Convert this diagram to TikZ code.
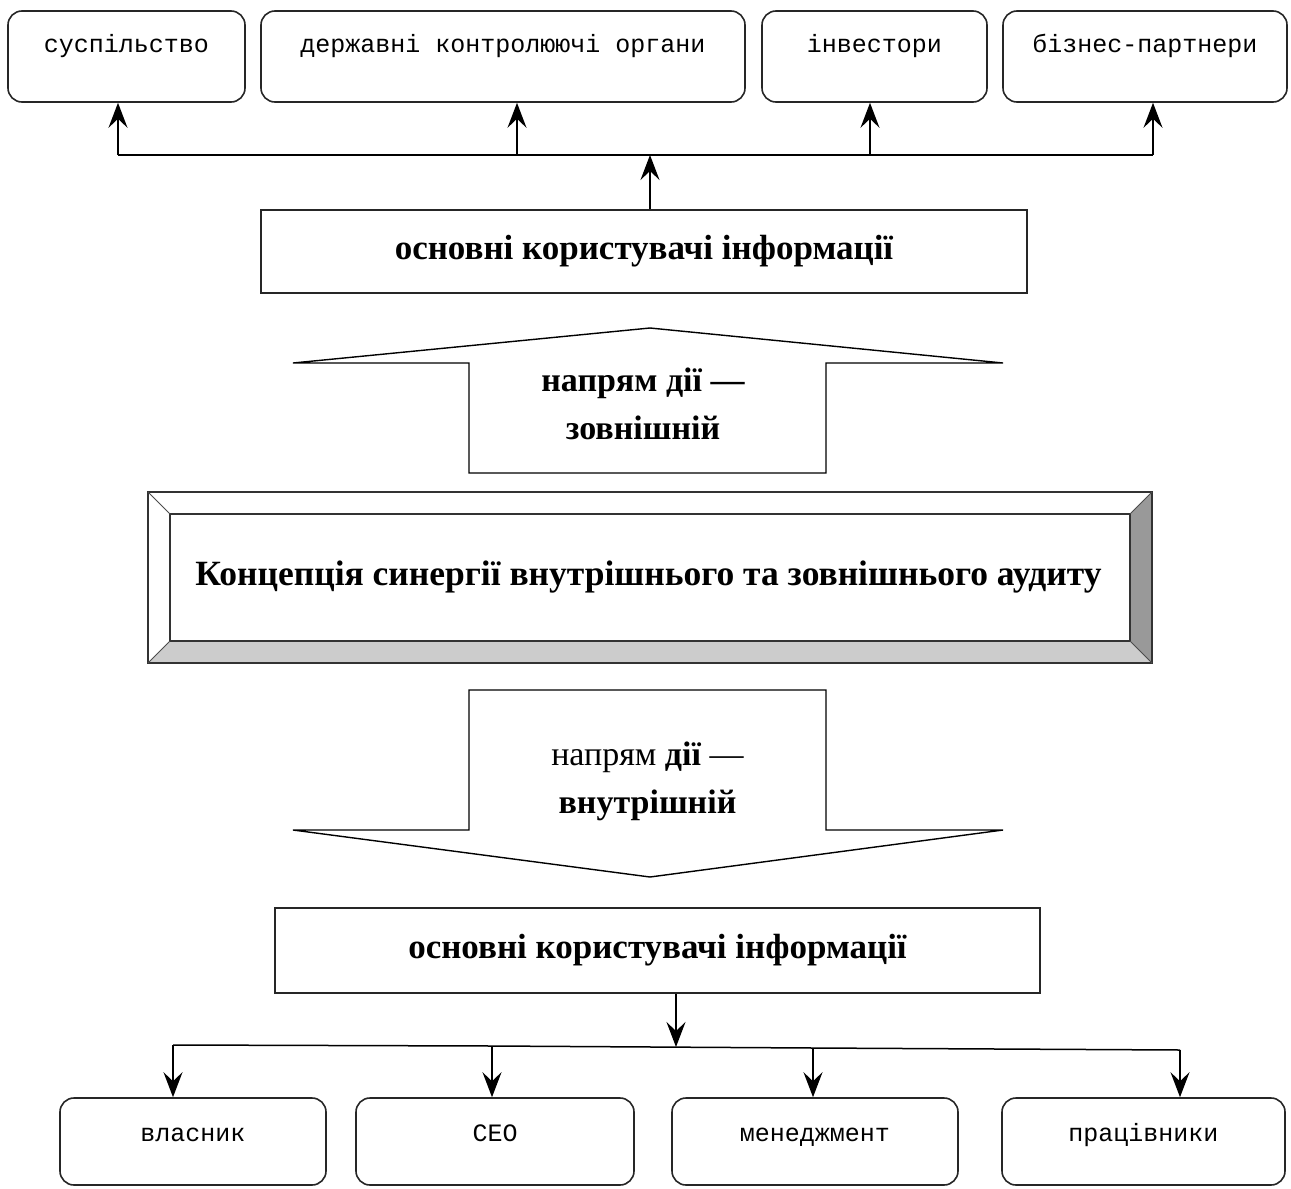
\documentclass[tikz,border=0pt]{standalone}
\usepackage{fontspec}
\setmainfont{Liberation Serif}
\newfontfamily\monof{Liberation Mono}
\usetikzlibrary{arrows.meta}
\begin{document}
\begin{tikzpicture}[x=1pt,y=-1pt,
  rbox/.style={draw=black!85, line width=1.6pt, rounded corners=14pt, inner sep=0pt, font=\monof\fontsize{25}{28}\selectfont, text height=10pt, text depth=19pt},
  rboxb/.style={draw=black!85, line width=1.6pt, rounded corners=14pt, inner sep=0pt, font=\monof\fontsize{25}{28}\selectfont, text height=10pt, text depth=11pt},
  ubox/.style={draw=black!85, line width=1.6pt, inner sep=0pt, font=\bfseries\fontsize{35}{40}\selectfont},
  arr/.style={line width=1.5pt, -{Stealth[length=25pt,width=19pt,inset=9pt]}},
  ln/.style={line width=1.5pt},
  bigarrow/.style={draw=black, line width=1.4pt, fill=white, line join=miter}
]
\useasboundingbox (0,0) rectangle (1291,1189);
% top boxes
\node[rbox, minimum width=237pt, minimum height=91pt] (s1) at (126.5,56.5) {суспільство};
\node[rbox, minimum width=484pt, minimum height=91pt] (s2) at (503,56.5) {державні контролюючі органи};
\node[rbox, minimum width=225pt, minimum height=91pt] (s3) at (874.5,56.5) {інвестори};
\node[rbox, minimum width=284pt, minimum height=91pt] (s4) at (1145,56.5) {бізнес-партнери};
% upper users box
\node[ubox, minimum width=766pt, minimum height=83pt] (u1) at (644,251.5) {основні користувачі інформації};
% connectors up
\coordinate (hub) at (650,155);
\coordinate (c1) at (118,155);
\coordinate (c2) at (517,155);
\coordinate (c3) at (870,155);
\coordinate (c4) at (1153,155);
\draw[arr] (u1.north -| hub) -- (hub);
\draw[ln] (c1) -- (c4);
\draw[arr] (c1) -- (c1 |- s1.south);
\draw[arr] (c2) -- (c2 |- s2.south);
\draw[arr] (c3) -- (c3 |- s3.south);
\draw[arr] (c4) -- (c4 |- s4.south);
% up block arrow
\draw[bigarrow] (469,473) -- (469,363) -- (293,363) -- (650,328) -- (1003,363) -- (826,363) -- (826,473) -- cycle;
\node[font=\bfseries\fontsize{34}{48}\selectfont, align=center] (t1) at (643,404) {напрям дії —\\зовнішній};
% bevel frame
\fill[white] (148,492) rectangle (1152,663);
\fill[black!40] (1152,492) -- (1130,514) -- (1130,641) -- (1152,663) -- cycle;
\fill[black!20] (148,663) -- (170,641) -- (1130,641) -- (1152,663) -- cycle;
\draw[line width=1.4pt, draw=black!80] (148,492) rectangle (1152,663);
\draw[line width=1.4pt, draw=black!80] (170,514) rectangle (1130,641);
\draw[line width=1pt, draw=black!70] (148,492) -- (170,514) (1152,492) -- (1130,514) (148,663) -- (170,641) (1152,663) -- (1130,641);
\node[font=\bfseries\fontsize{35.5}{40}\selectfont] (title) at (648.5,577.5) {Концепція синергії внутрішнього та зовнішнього аудиту};
% down block arrow
\draw[bigarrow] (469,690) -- (826,690) -- (826,830) -- (1003,830) -- (650,877) -- (293,830) -- (469,830) -- cycle;
\node[font=\fontsize{34}{48}\selectfont, align=center] (t2) at (647.5,781) {напрям \textbf{дії} —\\\textbf{внутрішній}};
% lower users box
\node[ubox, minimum width=765pt, minimum height=85pt] (u2) at (657.5,950.5) {основні користувачі інформації};
% bottom boxes
\node[rboxb, minimum width=266pt, minimum height=87pt] (b1) at (193,1141.5) {власник};
\node[rboxb, minimum width=278pt, minimum height=87pt] (b2) at (495,1141.5) {CEO};
\node[rboxb, minimum width=286pt, minimum height=87pt] (b3) at (815,1141.5) {менеджмент};
\node[rboxb, minimum width=283pt, minimum height=87pt] (b4) at (1143.5,1141.5) {працівники};
\coordinate (hub2) at (676,1047);
\coordinate (d1) at (173,1045);
\coordinate (d2) at (492,1046);
\coordinate (d3) at (813,1048);
\coordinate (d4) at (1180,1050);
\draw[arr] (u2.south -| hub2) -- (hub2);
\draw[ln] (d1) -- (d2) -- (d3) -- (d4);
\draw[arr] (d1) -- (d1 |- b1.north);
\draw[arr] (d2) -- (d2 |- b2.north);
\draw[arr] (d3) -- (d3 |- b3.north);
\draw[arr] (d4) -- (d4 |- b4.north);
\end{tikzpicture}
\end{document}
